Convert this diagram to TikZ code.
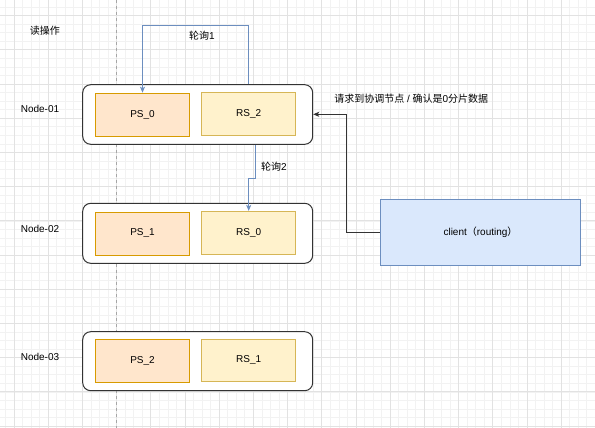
\documentclass[tikz,border=0pt]{standalone}
\usepackage{fontspec}
\setmainfont{Liberation Sans}
\newfontfamily\cjk{Noto Sans CJK SC}
\usetikzlibrary{arrows.meta}
\definecolor{psfill}{HTML}{FFE6CC}
\definecolor{psdraw}{HTML}{D79B00}
\definecolor{rsfill}{HTML}{FFF2CC}
\definecolor{rsdraw}{HTML}{D6B656}
\definecolor{clfill}{HTML}{DAE8FC}
\definecolor{cldraw}{HTML}{6C8EBF}
\definecolor{gridminor}{HTML}{F2F2F2}
\definecolor{gridmajor}{HTML}{E2E2E2}
\definecolor{darkline}{HTML}{333333}
\tikzset{
  minorgrid/.style={draw=gridminor,line width=0.8pt},
  majorgrid/.style={draw=gridmajor,line width=0.9pt},
  outerbox/.style={draw=darkline,fill=white,line width=1pt,rounded corners=8pt,minimum width=230pt,inner sep=0pt},
  psbox/.style={draw=psdraw,fill=psfill,line width=0.8pt,minimum width=94.4pt,minimum height=43pt,inner sep=0pt,font=\fontsize{10}{12}\selectfont},
  rsbox/.style={draw=rsdraw,fill=rsfill,line width=0.8pt,minimum width=94pt,minimum height=43pt,inner sep=0pt,font=\fontsize{10}{12}\selectfont},
  clbox/.style={draw=cldraw,fill=clfill,line width=0.8pt,minimum width=200.4pt,minimum height=65.6pt,inner sep=0pt,font=\fontsize{10}{12}\selectfont},
  lbl/.style={inner sep=0pt,font=\fontsize{10}{12}\selectfont},
  blueline/.style={draw=cldraw,line width=1pt,-{Stealth[length=6pt,width=5pt,inset=1.5pt]}},
  blackline/.style={draw=darkline,line width=0.9pt,-{Stealth[length=6pt,width=5pt,inset=1.5pt]}},
  dashline/.style={draw=gray!70,line width=0.8pt,dash pattern=on 3pt off 3pt}
}
\begin{document}
\begin{tikzpicture}[x=1pt,y=-1pt]
\useasboundingbox (0,0) rectangle (595,428);
\fill[white] (0,0) rectangle (595,428);
% grid
\foreach \i in {0,...,69} \draw[minorgrid] ({5.45+8.55*\i},0) -- ++(0,428);
\foreach \i in {0,...,49} \draw[minorgrid] (0,{7.15+8.55*\i}) -- ++(595,0);
\foreach \i in {0,...,17} \draw[majorgrid] ({14+34.2*\i},0) -- ++(0,428);
\foreach \i in {0,...,12} \draw[majorgrid] (0,{15.7+34.2*\i}) -- ++(595,0);
% dashed lane line
\coordinate (dtop) at (116.7,0);
\coordinate (dbot) at (116.7,428);
\draw[dashline] (dtop) -- (dbot);
% labels
\node[lbl] (title) at (45,30.7) {\cjk 读操作};
\node[lbl] (l1) at (40,109) {Node-01};
\node[lbl] (l2) at (40,229) {Node-02};
\node[lbl] (l3) at (40,356.7) {Node-03};
% node boxes
\node[outerbox,minimum height=59.6pt] (n1) at (197.7,114.5) {};
\node[psbox] (ps0) at (142.5,114.6) {PS\_0};
\node[rsbox] (rs2) at (248.7,114) {RS\_2};
\node[outerbox,minimum height=60pt] (n2) at (197.7,233.3) {};
\node[psbox] (ps1) at (142.5,233.5) {PS\_1};
\node[rsbox] (rs0) at (248.7,232.8) {RS\_0};
\node[outerbox,minimum height=59pt] (n3) at (197.7,361.2) {};
\node[psbox,minimum height=42.6pt] (ps2) at (142.5,361) {PS\_2};
\node[rsbox,minimum height=42.3pt] (rs1) at (248.7,360.2) {RS\_1};
% client
\node[clbox] (client) at (480.5,232.5) {client{\cjk （}routing{\cjk ）}};
% arrows
\coordinate (c1) at (248.7,26);
\draw[blueline] (rs2.north |- n1.north) -- (c1) -| (ps0.north);
\node[lbl] (t1) at (202,35.3) {{\cjk 轮询}1};
\coordinate (c2) at (255,178.3);
\draw[blueline] (c2 |- n1.south) -- (c2) -| (rs0.north);
\node[lbl] (t2) at (274,166.7) {{\cjk 轮询}2};
\coordinate (c3) at (346.3,114.3);
\draw[blackline] (client.west) -| (c3) -- (c3 -| n1.east);
\node[lbl] (t3) at (411.2,99) {{\cjk 请求到协调节点} / {\cjk 确认是}0{\cjk 分片数据}};
\end{tikzpicture}
\end{document}
